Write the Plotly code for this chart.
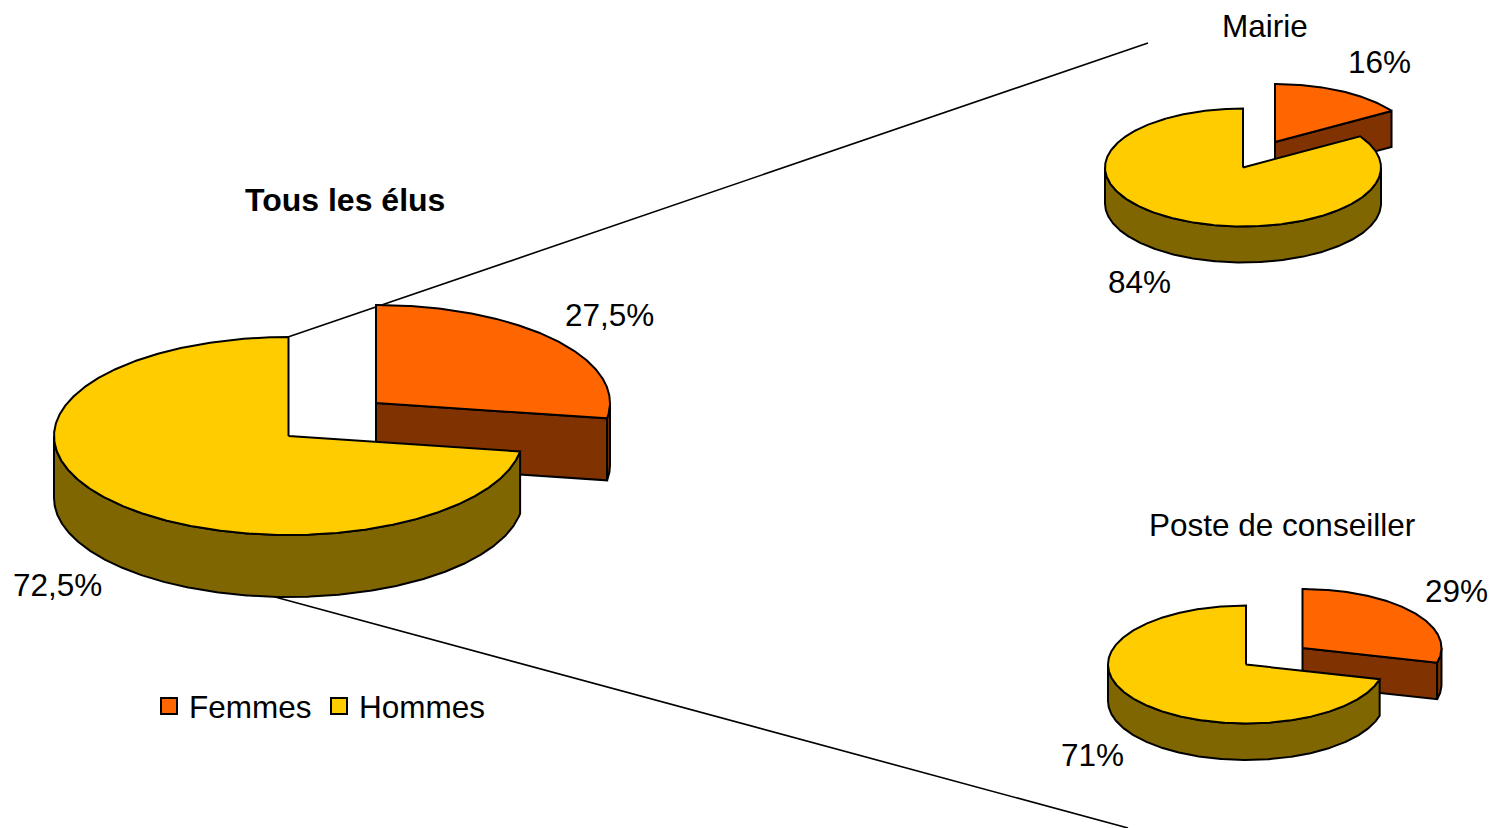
import numpy as np
import plotly.graph_objects as go

# --- data -------------------------------------------------------------
categories = ["Femmes", "Hommes"]
pie_titles = ["Tous les élus", "Mairie", "Poste de conseiller"]
tous_les_elus = [27.5, 72.5]
mairie = [16, 84]
conseiller = [29, 71]
labels_tous = ["27,5%", "72,5%"]
labels_mairie = ["16%", "84%"]
labels_conseiller = ["29%", "71%"]

# --- styles / geometry --------------------------------------------------
W, H = 1491, 828
FONT = "Liberation Sans"
TOP = {"Femmes": "#FF6600", "Hommes": "#FFCC00"}
SIDE = {"Femmes": "#803300", "Hommes": "#806600"}
EDGE = 2.0
FS = 31.5


def top_point(cx, cy, rx, ry, deg):
    t = np.radians(deg)
    return cx + rx * np.sin(t), cy - ry * np.cos(t)


def arc(cx, cy, rx, ry, a, b, dy=0.0):
    t = np.radians(np.linspace(a, b, max(int(abs(b - a)) * 2, 2)))
    return cx + rx * np.sin(t), cy - ry * np.cos(t) + dy


def poly(fig, xs, ys, color):
    fig.add_trace(go.Scatter(
        x=list(xs) + [xs[0]], y=list(ys) + [ys[0]], mode="lines", fill="toself",
        fillcolor=color, line=dict(color="black", width=EDGE),
        hoverinfo="skip", showlegend=False))


def slice3d(fig, cx, cy, rx, ry, depth, a, b, cat):
    """One extruded slice from angle a to b (degrees, clockwise from 12 o'clock)."""
    # flat cut face that ends the slice, visible when it faces the viewer
    if 0 < b < 180:
        ex, ey = top_point(cx, cy, rx, ry, b)
        poly(fig, [cx, ex, ex, cx], [cy, ey, ey + depth, cy + depth], SIDE[cat])
    # visible outer rim: front half of the ellipse
    lo, hi = max(a, 90), min(b, 270)
    if hi > lo:
        x1, y1 = arc(cx, cy, rx, ry, lo, hi)
        x2, y2 = arc(cx, cy, rx, ry, hi, lo, depth)
        poly(fig, np.r_[x1, x2], np.r_[y1, y2], SIDE[cat])
    # top face
    xa, ya = arc(cx, cy, rx, ry, a, b)
    poly(fig, np.r_[cx, xa], np.r_[cy, ya], TOP[cat])


def pie3d(fig, values, yellow_c, orange_c, rx, ry, depth):
    total = sum(values)
    split = 360 * values[0] / total
    slice3d(fig, *orange_c, rx[0], ry[0], depth, 0, split, categories[0])
    slice3d(fig, *yellow_c, rx[1], ry[1], depth, split, 360, categories[1])


fig = go.Figure()

# connector lines between the large pie and the small ones
for xs, ys in (([288, 1148], [337, 43]), ([275, 1128], [597, 828])):
    fig.add_trace(go.Scatter(x=xs, y=ys, mode="lines", line=dict(color="black", width=1.6),
                             hoverinfo="skip", showlegend=False))

pie3d(fig, tous_les_elus, (288.5, 436), (376, 403), (234, 234.5), (98, 99), 62)
pie3d(fig, mairie, (1243, 167.5), (1275, 142), (138, 138), (58, 59), 36)
pie3d(fig, conseiller, (1246, 664.5), (1302.5, 648), (139, 138), (59, 59), 36.5)

# legend entries
for c in categories:
    fig.add_trace(go.Scatter(
        x=[None], y=[None], mode="markers", name=c,
        marker=dict(symbol="square", size=17, color=TOP[c], line=dict(color="black", width=2))))


def text(s, x, y, bold=False):
    fig.add_annotation(x=x, y=y, text=f"<b>{s}</b>" if bold else s, showarrow=False,
                       xanchor="center", yanchor="middle",
                       font=dict(family=FONT, size=32 if bold else FS, color="black"))


text(pie_titles[0], 345, 200, bold=True)
text(pie_titles[1], 1265, 26)
text(pie_titles[2], 1282, 525)
text(labels_tous[0], 609, 315)
text(labels_tous[1], 57, 585)
text(labels_mairie[0], 1379, 62)
text(labels_mairie[1], 1139, 282)
text(labels_conseiller[0], 1456, 591)
text(labels_conseiller[1], 1092, 755)

fig.update_layout(
    width=W, height=H, margin=dict(l=0, r=0, t=0, b=0),
    paper_bgcolor="white", plot_bgcolor="white",
    xaxis=dict(range=[0, W], visible=False, fixedrange=True),
    yaxis=dict(range=[H, 0], visible=False, fixedrange=True),
    legend=dict(orientation="h", x=149 / W, y=1 - 679 / H, xanchor="left", yanchor="top",
                entrywidth=125, entrywidthmode="pixels",
                font=dict(family=FONT, size=FS, color="black"), bgcolor="rgba(0,0,0,0)"),
    font=dict(family=FONT),
)

fig.write_html("out.html", config={"displayModeBar": False},
               post_script="document.body.style.margin='0';")
